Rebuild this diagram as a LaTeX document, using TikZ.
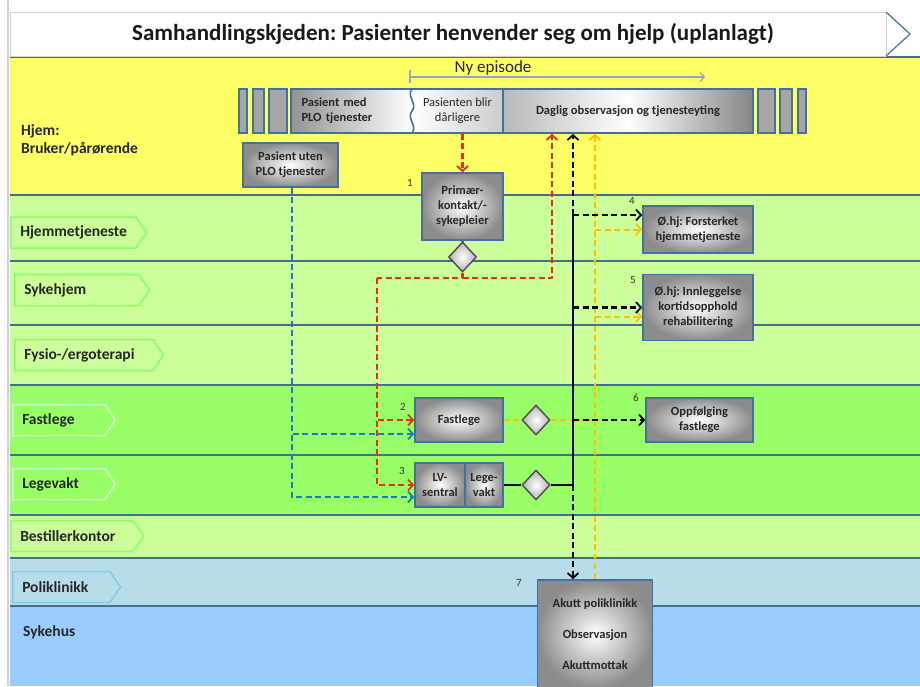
\documentclass[tikz,border=0pt]{standalone}
\usepackage{fontspec}
\setmainfont{Carlito}
\usepackage{xcolor}
\usetikzlibrary{arrows.meta,shapes.geometric,shapes.symbols}
\definecolor{laneY}{HTML}{FFFF66}
\definecolor{laneL}{HTML}{CCFF99}
\definecolor{laneG}{HTML}{99FF66}
\definecolor{laneP}{HTML}{B7DEE8}
\definecolor{laneS}{HTML}{99CCFF}
\definecolor{sepc}{HTML}{44708F}
\definecolor{bordc}{HTML}{41719C}
\definecolor{redc}{HTML}{EE2C12}
\definecolor{orgc}{HTML}{FFC000}
\definecolor{bluec}{HTML}{1B7AC4}
\definecolor{epic}{HTML}{8EA7C2}
\frenchspacing
\tikzset{
  pbox/.style={draw=bordc, line width=1.6pt, inner color=white, outer color=gray!90, align=center, text=black!85, font=\bfseries\fontsize{12.5}{15}\selectfont, inner sep=2pt},
  dbox/.style={shape=diamond, draw=black!70, line width=1.4pt, inner color=white, outer color=gray!60, minimum width=28pt, minimum height=30pt, inner sep=0pt},
  bar/.style={fill=gray!70, draw=bordc, line width=1.6pt},
  lanelbl/.style={shape=signal, signal to=east, signal pointer angle=110, anchor=west, align=left, line width=1.5pt, inner xsep=9.5pt, minimum height=31pt, text width=#1, text=black!85, font=\bfseries\fontsize{15.5}{18}\selectfont},
  lblL/.style={fill=laneL, draw=green!35!laneL},
  lblG/.style={fill=laneG, draw=green!20!white},
  lblP/.style={fill=laneP, draw=cyan!30!laneP},
  lanetxt/.style={align=left, text=black!85, font=\bfseries\fontsize{15.5}{18}\selectfont, inner sep=0pt},
  numtxt/.style={font=\fontsize{11}{13}\selectfont, text=black!80},
  sep/.style={draw=sepc, line width=2.4pt},
  tip/.style={-{Straight Barb[length=5pt,width=11pt,line width=1.8pt]}},
  redl/.style={draw=redc, line width=2.3pt, dash pattern=on 6pt off 3.5pt},
  redarr/.style={redl, tip},
  bluearr/.style={draw=bluec, line width=2pt, dash pattern=on 6pt off 3.5pt, tip},
  blk/.style={draw=black, line width=2.1pt},
  blkarr/.style={blk, dash pattern=on 6pt off 3.5pt, tip},
  orgl/.style={draw=orgc, line width=2pt, dash pattern=on 6pt off 3.5pt},
  orgarr/.style={orgl, tip},
  epi/.style={draw=epic, line width=1.1pt}
}

\begin{document}
\begin{tikzpicture}[x=1pt,y=-1pt]
\useasboundingbox (0,0) rectangle (920,686);
\fill[white] (0,0) rectangle (920,686);
\draw[gray!35, line width=1.5pt] (8,0) -- (8,686);
\foreach \c/\a/\b in {laneY/57/195, laneL/195/261, laneL/261/325, laneL/325/385, laneG/385/455, laneG/455/515, laneL/515/558, laneP/558/606, laneS/606/686}
  \fill[\c] (10,\a) rectangle (920,\b);
\foreach \y in {57,195,261,325,385,455,515,558,606}
  \draw[sep] (10,\y) -- (920,\y);

\draw[gray!35, fill=white, line width=1pt] (10,12) -- (886,12) -- (886,56) -- (10,56) -- cycle;
\draw[bordc, line width=1.2pt] (886,12) -- (910,34) -- (886,56);
\node[font=\bfseries\fontsize{23}{27}\selectfont, text=black!90] (ttl) at (453,34) {Samhandlingskjeden: Pasienter henvender seg om hjelp (uplanlagt)};

\node[lanetxt, anchor=north west] (hjem) at (21,124) {Hjem:\\Bruker/pårørende};
\node[lanelbl=106pt, lblL] (hjt) at (10,232.5) {Hjemmetjeneste};
\node[lanelbl=105pt, lblL] (skh) at (14,290) {Sykehjem};
\node[lanelbl=119pt, lblL] (fys) at (14,355) {Fysio-/ergoterapi};
\node[lanelbl=73pt, lblG] (fsl) at (12,420) {Fastlege};
\node[lanelbl=73pt, lblG] (lgv) at (12,484) {Legevakt};
\node[lanelbl=103pt, lblL] (bst) at (10,536) {Bestillerkontor};
\node[lanelbl=78pt, lblP] (pkl) at (12,587) {Poliklinikk};
\node[lanetxt, anchor=west] (syh) at (23,632) {Sykehus};

\node[font=\fontsize{17}{20}\selectfont, text=black!85] (nyep) at (493,68) {Ny episode};
\coordinate (epa) at (410,77);
\coordinate (epb) at (705,77);
\draw[epi] (410,70) -- (410,83);
\draw[epi, -{Straight Barb[length=4pt,width=9pt]}] (epa) -- (epb);

\foreach \a/\b in {239/247,253/264,269/287,758/775,780/792,798/806}
  \draw[bar] (\a,89) rectangle (\b,133);
\node[pbox, draw=none, shading=axis, left color=gray!85, right color=white, minimum width=121pt, minimum height=44pt, text width=100pt, align=left] (pmed) at (351.5,111) {Pasient med\\PLO tjenester};
\node[pbox, draw=none, shading=axis, left color=white, right color=gray!40, minimum width=91pt, minimum height=44pt, font=\fontsize{12.5}{15}\selectfont] (pblir) at (457.5,111) {Pasienten blir\\dårligere};
\node[pbox, draw=none, shading=axis, left color=gray!55, right color=gray!95, middle color=white, minimum width=250pt, minimum height=44pt] (daglig) at (628,111) {Daglig observasjon og tjenesteyting};
\draw[bordc, line width=1.6pt] (291,89) rectangle (753,133);
\draw[bordc, line width=1.6pt] (503,89) -- (503,133);
\draw[bordc, line width=1.6pt] (412,89) .. controls (406,96) and (418,104) .. (412,111) .. controls (406,118) and (418,126) .. (412,133);

\node[pbox, minimum width=95pt, minimum height=44pt] (putan) at (290.5,165) {Pasient uten\\PLO tjenester};
\node[pbox, minimum width=81pt, minimum height=67pt] (primk) at (462.5,206.5) {Primær-\\kontakt/-\\sykepleier};
\node[dbox] (dia1) at (462.5,257) {};
\node[pbox, minimum width=88pt, minimum height=44pt] (fastl) at (459,420) {Fastlege};
\node[pbox, minimum width=50pt, minimum height=44pt] (lvsen) at (440,485) {LV-\\sentral};
\node[pbox, minimum width=38pt, minimum height=44pt] (lvakt) at (484,485) {Lege-\\vakt};
\node[dbox] (dia3) at (536,420) {};
\node[dbox] (dia2) at (536,485) {};
\node[pbox, minimum width=110pt, minimum height=47pt] (fhjem) at (698,229.5) {Ø.hj: Forsterket\\hjemmetjeneste};
\node[pbox, minimum width=110pt, minimum height=66pt] (innl) at (698,307.5) {Ø.hj: Innleggelse\\kortidsopphold\\rehabilitering};
\node[pbox, minimum width=107pt, minimum height=44pt] (oppf) at (699.5,420) {Oppfølging\\fastlege};
\node[pbox, minimum width=115pt, minimum height=108pt] (akutt) at (595,634) {Akutt poliklinikk\\[16pt]Observasjon\\[16pt]Akuttmottak};

\node[numtxt] (n1) at (410,183) {1};
\node[numtxt] (n2) at (403,407) {2};
\node[numtxt] (n3) at (402,471) {3};
\node[numtxt] (n4) at (632,201) {4};
\node[numtxt] (n5) at (633,280) {5};
\node[numtxt] (n6) at (636,398) {6};
\node[numtxt] (n7) at (519,583) {7};

\coordinate (rmid) at (462.5,278);
\coordinate (rleft) at (377,278);
\draw[redarr] (primk.north |- pblir.south) -- (primk.north);
\draw[redl] (primk.south) -- (dia1.north);
\draw[redl] (dia1.south) -- (rmid) -- (rleft);
\draw[redarr] (rmid) -| ([xshift=-76pt]daglig.south);
\draw[redarr] (rleft) |- (fastl.west);
\draw[redarr] (rleft) |- (lvsen.west);

\coordinate (fbl) at ([yshift=-14pt]fastl.west);
\coordinate (lbl) at ([yshift=-12pt]lvsen.west);
\draw[bluearr] ([xshift=1.5pt]putan.south) |- (fbl);
\draw[bluearr] ([xshift=1.5pt]putan.south) |- (lbl);

\draw[orgl] (fastl.east) -- (dia3.west);
\draw[orgl] (dia3.east) -- (akutt.north |- dia3.east);
\draw[orgarr, {Straight Barb[length=5pt,width=11pt,line width=1.8pt]}-] ([xshift=-33pt]daglig.south) -- (akutt.north);
\coordinate (f5o) at ([yshift=-9pt]innl.west);
\draw[orgarr] (akutt.north |- fhjem.west) -- (fhjem.west);
\draw[orgarr] (akutt.north |- f5o) -- (f5o);

\coordinate (bk) at (573,485);
\coordinate (f4b) at ([yshift=14.5pt]fhjem.west);
\draw[blk] (lvakt.east) -- (dia2.west);
\draw[blk] (dia2.east) -- (bk) -- (bk |- f4b);
\draw[blkarr] (bk |- f4b) -- ([xshift=-55pt]daglig.south);
\draw[blkarr] (bk |- f4b) -- (f4b);
\draw[blkarr] (bk |- innl.west) -- (innl.west);
\draw[blkarr] (bk |- oppf.west) -- (oppf.west);
\draw[blkarr] (bk) -- (bk |- akutt.north);
\end{tikzpicture}
\end{document}
